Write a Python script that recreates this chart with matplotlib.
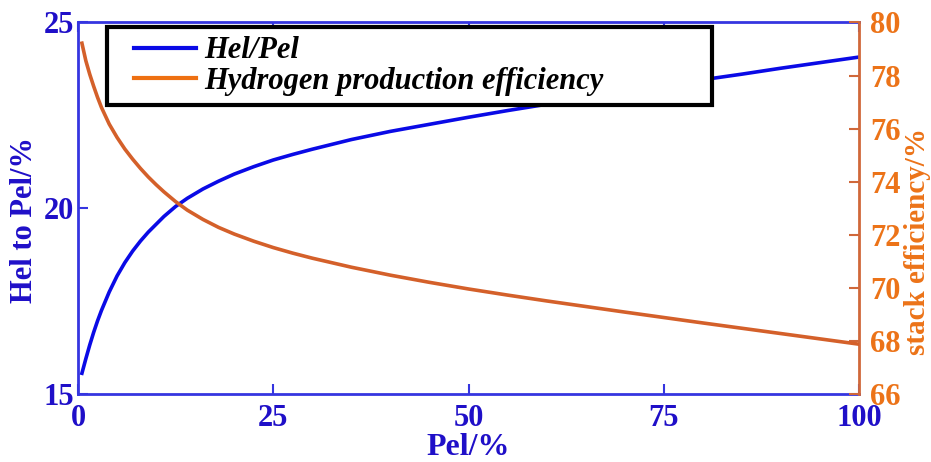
import matplotlib.pyplot as plt
from matplotlib.lines import Line2D
from matplotlib.legend_handler import HandlerLine2D

# Electrical load share (x) and the two responses read along it
pel = [0.5, 1.0, 1.5, 2.0, 2.5, 3.0, 4.0, 5.0, 6.0, 7.0, 8.0, 9.0, 10, 11,
       12.5, 14, 16, 18, 20, 22.5, 25, 27.5, 30, 35, 40, 45, 50, 55, 60,
       65, 70, 75, 80, 85, 90, 95, 100]
hel_pel = [15.56, 15.95, 16.32, 16.66, 16.97, 17.25, 17.75, 18.18, 18.54,
           18.85, 19.12, 19.36, 19.57, 19.78, 20.05, 20.27, 20.52, 20.73,
           20.92, 21.12, 21.30, 21.45, 21.59, 21.85, 22.07, 22.26, 22.45,
           22.63, 22.80, 22.97, 23.135, 23.30, 23.46, 23.61, 23.77, 23.92,
           24.07]
h2_eff = [79.22, 78.56, 78.05, 77.60, 77.18, 76.80, 76.17, 75.67, 75.23,
          74.85, 74.50, 74.18, 73.89, 73.62, 73.25, 72.93, 72.58, 72.28,
          72.03, 71.76, 71.52, 71.31, 71.12, 70.78, 70.48, 70.21, 69.96,
          69.73, 69.51, 69.30, 69.09, 68.885, 68.68, 68.48, 68.28, 68.08,
          67.88]

x_ticks = [0, 25, 50, 75, 100]
left_ticks = [15, 20, 25]
right_ticks = [66, 68, 70, 72, 74, 76, 78, 80]

BLUE_LINE = "#0a0ae6"
BLUE_TEXT = "#1f0fc8"
BLUE_SPINE = "#3535e0"
ORANGE_LINE = "#d4602a"
ORANGE_TEXT = "#ec7318"
ORANGE_SPINE = "#d0683a"

plt.rcParams["font.family"] = ["Liberation Serif", "DejaVu Serif"]
plt.rcParams["font.weight"] = "bold"

fig = plt.figure(figsize=(9.31, 4.62), dpi=100)
ax = fig.add_axes([0.0838, 0.147, 0.8389, 0.8043])
ax2 = ax.twinx()

ax.plot(pel, hel_pel, color=BLUE_LINE, lw=2.6, zorder=3)
ax2.plot(pel, h2_eff, color=ORANGE_LINE, lw=2.6, zorder=3)

ax.set_xlim(0, 100)
ax.set_ylim(15, 25)
ax2.set_ylim(66, 80)
ax.set_xticks(x_ticks)
ax.set_yticks(left_ticks)
ax2.set_yticks(right_ticks)

ax.tick_params(axis="both", direction="in", length=7, width=1.5,
               colors=BLUE_SPINE, labelsize=22, labelcolor=BLUE_TEXT)
ax.tick_params(axis="y", pad=3)
ax.tick_params(axis="x", top=True, pad=7)
ax2.tick_params(axis="y", direction="in", length=7, width=1.5,
                colors=ORANGE_SPINE, labelsize=22, labelcolor=ORANGE_TEXT, pad=8)
for lbl in ax.get_xticklabels() + ax.get_yticklabels() + ax2.get_yticklabels():
    lbl.set_fontweight("bold")

for side in ["left", "bottom", "top"]:
    ax.spines[side].set_color(BLUE_SPINE)
    ax.spines[side].set_linewidth(2)
ax.spines["right"].set_visible(False)
for side in ["left", "bottom", "top"]:
    ax2.spines[side].set_visible(False)
ax2.spines["right"].set_color(ORANGE_SPINE)
ax2.spines["right"].set_linewidth(2)

ax.set_xlabel("Pel/%", fontsize=23, fontweight="bold", color=BLUE_TEXT, labelpad=0)
ax.set_ylabel("Hel to Pel/%", fontsize=22, fontweight="bold", color=BLUE_TEXT)
ax.yaxis.set_label_coords(-0.05, 0.468)
ax2.set_ylabel("stack efficiency/%", fontsize=21, fontweight="bold", color=ORANGE_TEXT)
ax2.yaxis.set_label_coords(1.057, 0.41)

handles = [Line2D([], [], color=BLUE_LINE, lw=3),
           Line2D([], [], color="#ee7012", lw=3)]
labels = ["Hel/Pel", "Hydrogen production efficiency"]
leg = ax2.legend(handles, labels, loc="upper left",
                 bbox_to_anchor=(0.037, 0.987, 0.775, 0.0), mode="expand",
                 prop={"family": ["Liberation Serif"], "style": "italic",
                       "weight": "bold", "size": 22},
                 handler_map={Line2D: HandlerLine2D(xpad=0.6)},
                 frameon=True, fancybox=False, framealpha=1, edgecolor="black",
                 handlelength=2.6, handletextpad=0.3, labelspacing=0.05,
                 borderpad=0.3, borderaxespad=0)
leg.get_frame().set_linewidth(3)
leg.set_zorder(5)

fig.savefig("out.png", dpi=100)
